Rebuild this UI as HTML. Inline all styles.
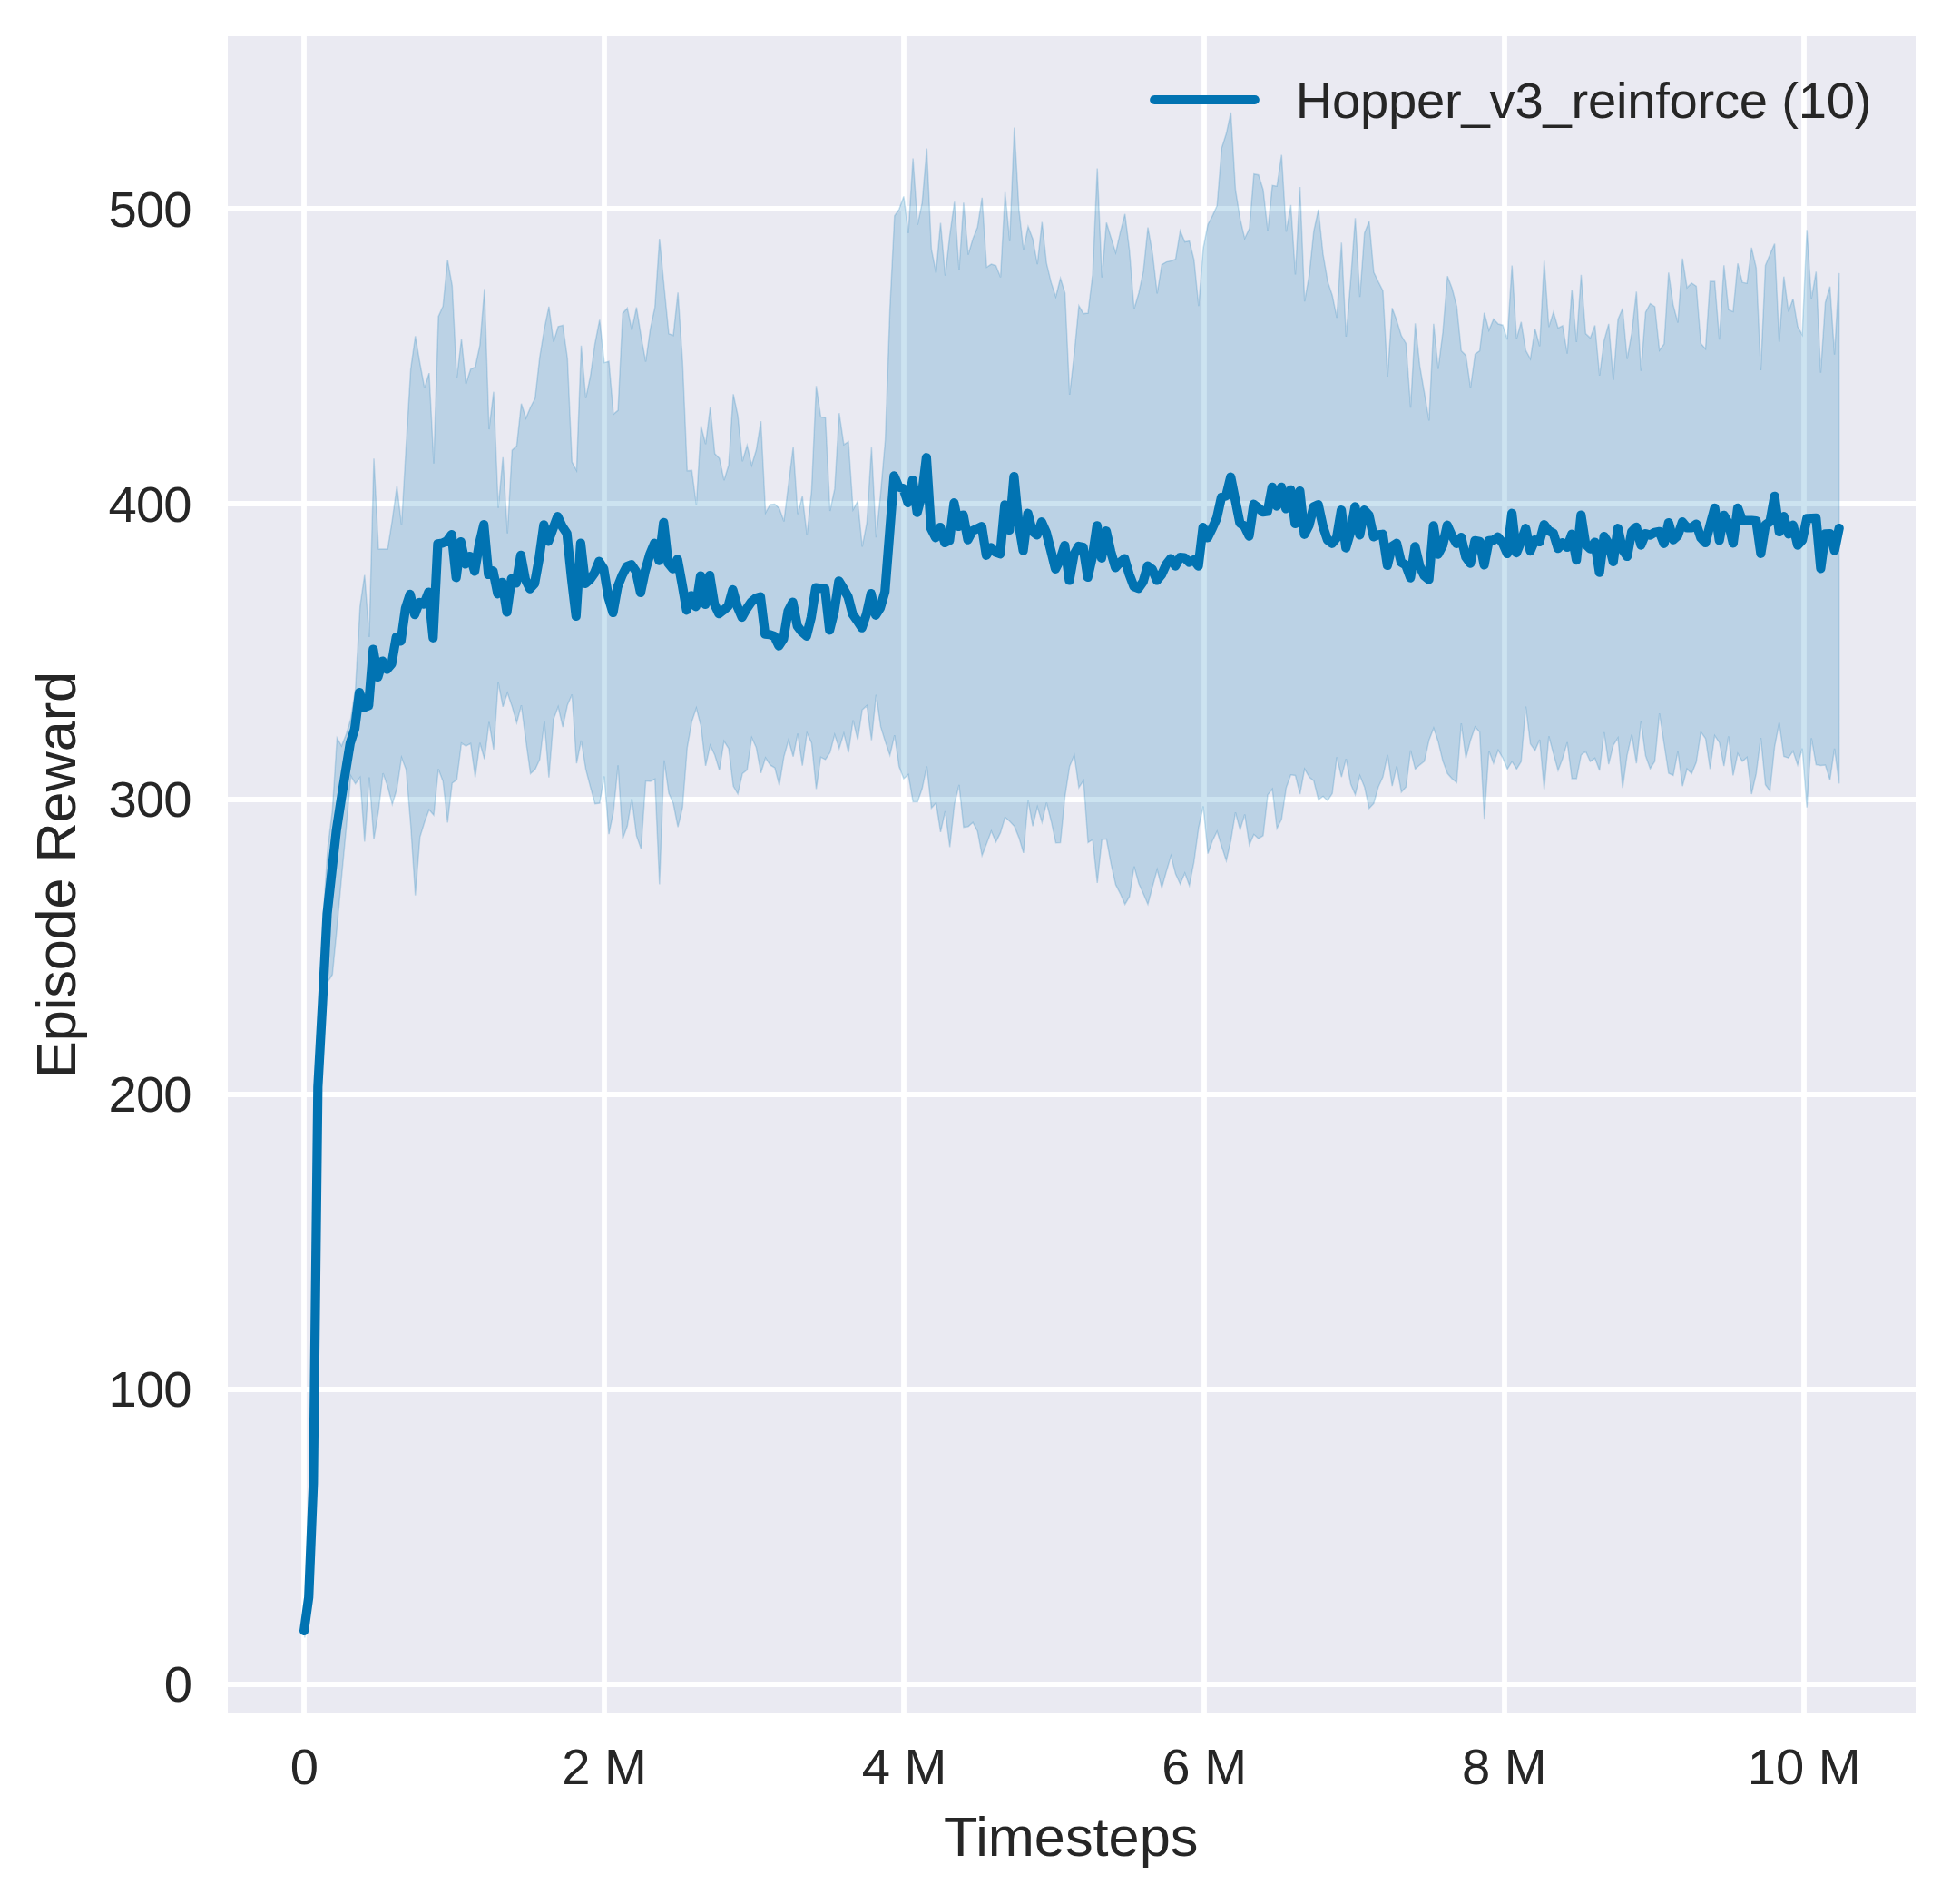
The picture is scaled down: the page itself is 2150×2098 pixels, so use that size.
<!DOCTYPE html>
<html><head><meta charset="utf-8">
<style>
html,body{margin:0;padding:0;background:#fff;}
body{width:2150px;height:2098px;overflow:hidden;font-family:"Liberation Sans",sans-serif;}
svg{display:block;}
text{font-family:"Liberation Sans",sans-serif;fill:#262626;}
</style></head><body>
<svg width="2150" height="2098" viewBox="0 0 2150 2098">
<rect x="0" y="0" width="2150" height="2098" fill="#ffffff"/>
<rect x="251" y="40" width="1860" height="1848" fill="#eaeaf2"/>
<g stroke="#ffffff" stroke-width="5.8" fill="none">
<path d="M335 40V1888M666 40V1888M996 40V1888M1327 40V1888M1658 40V1888M1988 40V1888"/>
<path d="M251 1856H2111M251 1531H2111M251 1206H2111M251 881H2111M251 555H2111M251 230H2111"/>
</g>
<path d="M335.8 1789.5 L340.9 1757 L346 1630 L351.1 1192 L356.1 1012 L361.2 934 L366.3 893 L371.4 813 L376.4 822 L381.5 809 L386.6 792 L391.7 759 L396.8 668 L401.8 633.5 L406.9 702 L412 505.3 L417.1 605 L422.1 605 L427.2 605 L432.3 573 L437.4 535.3 L442.5 579 L447.5 492 L452.6 406.9 L457.7 370.4 L462.8 400.5 L467.8 427.4 L472.9 411.1 L478 510.7 L483.1 348.7 L488.2 337.4 L493.2 286.3 L498.3 314.7 L503.4 416.8 L508.5 373.5 L513.5 422.9 L518.6 406.9 L523.7 404.5 L528.8 380.6 L533.9 318.2 L538.9 473.1 L544 431.7 L549.1 559.8 L554.2 503.8 L559.2 587.6 L564.3 496.2 L569.4 491.3 L574.5 444.8 L579.6 460.8 L584.6 448.7 L589.7 438.8 L594.8 393.4 L599.9 362.2 L604.9 337.8 L610 376.7 L615.1 359.8 L620.2 358.4 L625.3 394.7 L630.3 509.1 L635.4 518.5 L640.5 380.8 L645.6 438.7 L650.6 414.5 L655.7 378.4 L660.8 352.4 L665.9 399.6 L671 398.2 L676 456.4 L681.1 452.1 L686.2 345.3 L691.3 339.4 L696.3 363.5 L701.4 338.7 L706.5 370.6 L711.6 398.5 L716.7 362.1 L721.7 338.7 L726.8 263 L731.9 316 L737 367.7 L742 369.6 L747.1 322.3 L752.2 398 L757.3 518.8 L762.4 518.4 L767.4 556.4 L772.5 469.5 L777.6 489.3 L782.7 448.5 L787.7 499.8 L792.8 505 L797.9 529.2 L803 512.5 L808.1 434.3 L813.1 457.9 L818.2 508.3 L823.3 490.8 L828.4 512.5 L833.4 495.8 L838.5 464 L843.6 565.1 L848.7 555.9 L853.8 555.5 L858.8 560.1 L863.9 574.6 L869 533 L874.1 492.5 L879.1 566.5 L884.2 546.7 L889.3 589.9 L894.4 540.3 L899.5 425.4 L904.5 459.4 L909.6 460.1 L914.7 563 L919.8 538.9 L924.8 455.2 L929.9 489.9 L935 486.7 L940.1 561.6 L945.2 552.3 L950.2 602.4 L955.3 575.7 L960.4 493 L965.5 592.1 L970.5 543 L975.6 485 L980.7 340 L985.8 237.7 L990.8 230.6 L995.9 216.4 L1001 256.8 L1006.1 174.5 L1011.2 247.6 L1016.2 223.5 L1021.3 163.5 L1026.4 274.5 L1031.5 300.5 L1036.5 245.5 L1041.6 303.6 L1046.7 258.9 L1051.8 222.3 L1056.9 297.7 L1061.9 223.2 L1067 280.6 L1072.1 263.2 L1077.2 250.4 L1082.2 217.8 L1087.3 294.4 L1092.4 291.1 L1097.5 292.7 L1102.6 305.5 L1107.6 211.7 L1112.7 265.6 L1117.8 140.5 L1122.9 231 L1127.9 275.2 L1133 249.7 L1138.1 263.2 L1143.2 291.1 L1148.3 244.5 L1153.3 290.1 L1158.4 311.4 L1163.5 327 L1168.6 306.5 L1173.6 322.8 L1178.7 435 L1183.8 390 L1188.9 336.9 L1194 345.6 L1199 345.1 L1204.1 302.5 L1209.2 185.5 L1214.3 305.6 L1219.3 245.3 L1224.4 262.1 L1229.5 278.4 L1234.6 255.7 L1239.7 235.8 L1244.7 276.2 L1249.8 340.5 L1254.9 323 L1260 298.9 L1265 250.7 L1270.1 279.1 L1275.2 323.3 L1280.3 291.6 L1285.4 288.6 L1290.4 287.6 L1295.5 285.5 L1300.6 254.3 L1305.7 266.6 L1310.7 265.6 L1315.8 286.2 L1320.9 337.2 L1326 273.4 L1331.1 247.2 L1336.1 237.9 L1341.2 226.6 L1346.3 163.1 L1351.4 147.1 L1356.4 123.9 L1361.5 209.2 L1366.6 240.8 L1371.7 262.8 L1376.8 251.8 L1381.8 191.7 L1386.9 192.7 L1392 209 L1397.1 254.4 L1402.1 204.3 L1407.2 205.2 L1412.3 170.5 L1417.4 255.3 L1422.5 225.8 L1427.5 302.4 L1432.6 206.1 L1437.7 332.2 L1442.8 302.8 L1447.8 254.6 L1452.9 230.8 L1458 280.1 L1463.1 309.9 L1468.2 325.5 L1473.2 350.1 L1478.3 267.4 L1483.4 371 L1488.5 308 L1493.5 240.4 L1498.6 327.2 L1503.7 256.7 L1508.8 243.7 L1513.9 300 L1518.9 310.4 L1524 320.4 L1529.1 415 L1534.2 339.4 L1539.2 353.3 L1544.3 370 L1549.4 378.4 L1554.5 449.3 L1559.6 356.4 L1564.6 403.2 L1569.7 433 L1574.8 463.5 L1579.9 356.7 L1584.9 406.5 L1590 366.3 L1595.1 304.3 L1600.2 317.8 L1605.3 337.5 L1610.3 386.5 L1615.4 391.6 L1620.5 427.3 L1625.6 390.1 L1630.6 386.6 L1635.7 344.6 L1640.8 363.9 L1645.9 351.6 L1651 357.1 L1656 358.2 L1661.1 374.1 L1666.2 292.6 L1671.3 373.1 L1676.3 354.7 L1681.4 386.2 L1686.5 395.4 L1691.6 362.1 L1696.7 381.5 L1701.7 287.3 L1706.8 360.4 L1711.9 343.9 L1717 361.5 L1722 358.9 L1727.1 389.7 L1732.2 319.1 L1737.3 377 L1742.4 302.8 L1747.4 367.6 L1752.5 372.4 L1757.6 358.5 L1762.7 414 L1767.7 375.3 L1772.8 356.9 L1777.9 418.6 L1783 351.9 L1788.1 339.9 L1793.1 395.5 L1798.2 366.8 L1803.3 321.4 L1808.4 408.7 L1813.4 344.1 L1818.5 334.5 L1823.6 338 L1828.7 386 L1833.8 379.1 L1838.8 300.4 L1843.9 336.3 L1849 355.5 L1854.1 284.8 L1859.1 316.9 L1864.2 311.9 L1869.3 315.3 L1874.4 378.6 L1879.5 384.5 L1884.5 310.1 L1889.6 310.1 L1894.7 374.3 L1899.8 292.3 L1904.8 341.3 L1909.9 343.4 L1915 290.2 L1920.1 311.2 L1925.2 312.2 L1930.2 272.9 L1935.3 295.2 L1940.4 407.9 L1945.5 292.3 L1950.5 280.4 L1955.6 268.5 L1960.7 376.7 L1965.8 304.7 L1970.9 343.4 L1975.9 329.2 L1981 359.7 L1986.1 368.9 L1991.2 253.3 L1996.2 329.2 L2001.3 299.4 L2006.4 410.8 L2011.5 333.5 L2016.6 315.7 L2021.6 390.6 L2026.7 300.9 L2026.7 863.3 L2021.6 824.8 L2016.6 859.4 L2011.5 843 L2006.4 843.5 L2001.3 842.5 L1996.2 813.3 L1991.2 889.6 L1986.1 824.8 L1981 843 L1975.9 827.6 L1970.9 835.2 L1965.8 833.5 L1960.7 796.4 L1955.6 822.9 L1950.5 871.8 L1945.5 864.8 L1940.4 813 L1935.3 852.7 L1930.2 875 L1925.2 834.5 L1920.1 838.9 L1915 830.3 L1909.9 854.4 L1904.8 811.3 L1899.8 844.2 L1894.7 818.2 L1889.6 810.6 L1884.5 847.4 L1879.5 813.7 L1874.4 806.6 L1869.3 839.9 L1864.2 852.4 L1859.1 847.3 L1854.1 866.2 L1849 827.9 L1843.9 854.4 L1838.8 852 L1833.8 819.5 L1828.7 786 L1823.6 838.9 L1818.5 847 L1813.4 832.8 L1808.4 795.2 L1803.3 841.1 L1798.2 809.4 L1793.1 832.1 L1788.1 868.3 L1783 813 L1777.9 821.1 L1772.8 842.1 L1767.7 806.8 L1762.7 849.1 L1757.6 835.5 L1752.5 839.2 L1747.4 827.9 L1742.4 831.8 L1737.3 858.1 L1732.2 858.1 L1727.1 817.9 L1722 835.7 L1717 848.9 L1711.9 830.4 L1706.8 811.3 L1701.7 869.7 L1696.7 815.1 L1691.6 826.9 L1686.5 819.6 L1681.4 778.5 L1676.3 839.2 L1671.3 847.4 L1666.2 839.2 L1661.1 847.4 L1656 835 L1651 826.5 L1645.9 841.1 L1640.8 827.4 L1635.7 902.1 L1630.6 806.6 L1625.6 800.9 L1620.5 815.8 L1615.4 835.4 L1610.3 797.1 L1605.3 862.2 L1600.2 858.1 L1595.1 852.3 L1590 838.5 L1584.9 817.2 L1579.9 802.3 L1574.8 815.5 L1569.7 838.8 L1564.6 842.8 L1559.6 847.4 L1554.5 826.9 L1549.4 867.2 L1544.3 872.8 L1539.2 844.3 L1534.2 866.2 L1529.1 831.8 L1524 856 L1518.9 867.3 L1513.9 885.3 L1508.8 890.7 L1503.7 867.3 L1498.6 854.8 L1493.5 875.7 L1488.5 864 L1483.4 836.1 L1478.3 856.2 L1473.2 834.3 L1468.2 874.3 L1463.1 882.2 L1458 877.5 L1452.9 881.3 L1447.8 860.5 L1442.8 856.2 L1437.7 847.4 L1432.6 875 L1427.5 854.5 L1422.5 853.8 L1417.4 867.9 L1412.3 902.8 L1407.2 913 L1402.1 869.3 L1397.1 875.7 L1392 920.8 L1386.9 924 L1381.8 919.4 L1376.8 931.1 L1371.7 897.4 L1366.6 914.4 L1361.5 895.2 L1356.4 926.5 L1351.4 948.4 L1346.3 932.8 L1341.2 916.1 L1336.1 926.5 L1331.1 940.6 L1326 888.5 L1320.9 912 L1315.8 949.6 L1310.7 976 L1305.7 962.1 L1300.6 974.2 L1295.5 963.1 L1290.4 943 L1285.4 960 L1280.3 978.4 L1275.2 958.2 L1270.1 977 L1265 996.5 L1260 984.8 L1254.9 973.5 L1249.8 954.8 L1244.7 987.9 L1239.7 996.5 L1234.6 984.8 L1229.5 974.9 L1224.4 952.2 L1219.3 924.5 L1214.3 925.2 L1209.2 972.8 L1204.1 925.2 L1199 928.5 L1194 860 L1188.9 867.8 L1183.8 832.1 L1178.7 844.4 L1173.6 877.7 L1168.6 928.5 L1163.5 928.8 L1158.4 904.7 L1153.3 884.5 L1148.3 906.1 L1143.2 889.1 L1138.1 910.4 L1133 881.7 L1127.9 939.9 L1122.9 923.1 L1117.8 910.4 L1112.7 905 L1107.6 900.5 L1102.6 917.4 L1097.5 927.7 L1092.4 915.8 L1087.3 929.4 L1082.2 942.8 L1077.2 915.9 L1072.1 906.2 L1067 910.9 L1061.9 911.6 L1056.9 864.8 L1051.8 886.1 L1046.7 933.3 L1041.6 893.9 L1036.5 916.9 L1031.5 884.7 L1026.4 890.4 L1021.3 844.5 L1016.2 869.1 L1011.2 883.5 L1006.1 883.5 L1001 853.5 L995.9 858 L990.8 844.7 L985.8 810.2 L980.7 832.2 L975.6 817.3 L970.5 800.7 L965.5 765.5 L960.4 815.6 L955.3 777.6 L950.2 782.1 L945.2 815.2 L940.1 793.6 L935 829.1 L929.9 808.1 L924.8 824.7 L919.8 809.5 L914.7 829.1 L909.6 836.9 L904.5 834.3 L899.5 869.4 L894.4 818.7 L889.3 807.6 L884.2 843.6 L879.1 808.4 L874.1 833.7 L869 815.2 L863.9 833.7 L858.8 865.3 L853.8 846 L848.7 842.9 L843.6 835.1 L838.5 851.8 L833.4 823.8 L828.4 812.8 L823.3 848.3 L818.2 852.4 L813.1 874.8 L808.1 866.3 L803 824.8 L797.9 816.7 L792.8 848.9 L787.7 832 L782.7 821.2 L777.6 843.9 L772.5 800.4 L767.4 780.2 L762.4 795.1 L757.3 823.8 L752.2 889.7 L747.1 911.3 L742 885.5 L737 874.1 L731.9 837.9 L726.8 974.5 L721.7 858.5 L716.7 861.1 L711.6 860.6 L706.5 935.5 L701.4 920.9 L696.3 880.1 L691.3 910.3 L686.2 924.2 L681.1 843.3 L676 894.7 L671 919.2 L665.9 855.5 L660.8 885.1 L655.7 885.7 L650.6 867 L645.6 847.9 L640.5 816 L635.4 841.2 L630.3 765.3 L625.3 777 L620.2 801.1 L615.1 778.8 L610 792.6 L604.9 856.7 L599.9 795 L594.8 836.8 L589.7 847.9 L584.6 852.4 L579.6 816.7 L574.5 777.2 L569.4 796.4 L564.3 778.4 L559.2 763.5 L554.2 778.8 L549.1 751.8 L544 825.9 L538.9 795.7 L533.9 836.5 L528.8 818.5 L523.7 856.4 L518.6 819.2 L513.5 822.1 L508.5 818.8 L503.4 859.2 L498.3 863 L493.2 906.5 L488.2 860.9 L483.1 847.4 L478 898.2 L472.9 892.3 L467.8 906 L462.8 922.3 L457.7 986.6 L452.6 909 L447.5 847.9 L442.5 834.8 L437.4 869 L432.3 886.3 L427.2 866.8 L422.1 852.1 L417.1 893.5 L412 925 L406.9 856.5 L401.8 927.4 L396.8 856.5 L391.7 863.6 L386.6 855 L381.5 913 L376.4 967 L371.4 1022 L366.3 1074 L361.2 1082 L356.1 1125 L351.1 1204 L346 1640 L340.9 1763 L335.8 1804.5Z" fill="#0173b2" fill-opacity="0.2" stroke="#0173b2" stroke-opacity="0.2" stroke-width="1.5" stroke-linejoin="miter"/>
<path d="M335.1 1796.9 L340.2 1760 L345.3 1634 L350.3 1198 L355.4 1105 L360.5 1007 L365.6 961 L370.7 915 L375.7 882.6 L380.8 850.2 L385.9 819 L391 803 L396.1 763 L401.1 779.5 L406.2 777.5 L411.3 715.5 L416.4 746 L421.5 728.5 L426.5 737.5 L431.6 731.4 L436.7 702 L441.8 706.3 L446.9 670 L451.9 654.8 L457 677.2 L462.1 663.8 L467.2 665.6 L472.3 652.6 L477.3 702.8 L482.4 599.2 L487.5 598.5 L492.6 596 L497.7 589.1 L502.7 636.4 L507.8 597.1 L512.9 621.4 L518 613 L523.1 629.5 L528.1 599.6 L533.2 578.2 L538.3 633 L543.4 629.2 L548.5 654.3 L553.5 641.8 L558.6 674.4 L563.7 637.8 L568.8 642.5 L573.9 611.8 L578.9 638.5 L584 648.6 L589.1 643 L594.2 615 L599.3 578.4 L604.3 596.4 L609.4 582.5 L614.5 569.2 L619.6 580.1 L624.7 587.8 L629.7 636 L634.8 678.9 L639.9 598.6 L645 643 L650.1 638.5 L655.1 631.5 L660.2 618.7 L665.3 626.7 L670.4 658 L675.5 675 L680.5 647 L685.6 634 L690.7 624.3 L695.8 622.2 L700.9 629.6 L705.9 653 L711 629 L716.1 611 L721.2 598.6 L726.3 617.6 L731.3 575.9 L736.4 620.5 L741.5 626.7 L746.6 616.3 L751.7 643.8 L756.7 672.3 L761.8 656.4 L766.9 668.3 L772 634.6 L777.1 665.9 L782.1 634 L787.2 665.5 L792.3 676.2 L797.4 672.3 L802.5 667.9 L807.5 649.9 L812.6 668.5 L817.7 680.1 L822.8 670.9 L827.9 663.3 L832.9 659.1 L838 657.6 L843.1 698.6 L848.2 699.2 L853.3 701 L858.3 711.7 L863.4 703.9 L868.5 673.3 L873.6 663.5 L878.7 689.8 L883.7 696.3 L888.8 700.8 L893.9 680.4 L899 647.6 L904.1 648.2 L909.1 648.8 L914.2 694.3 L919.3 674 L924.4 640.3 L929.5 648.5 L934.5 657.4 L939.6 676.8 L944.7 683.9 L949.8 691.7 L954.9 676.5 L959.9 654.1 L965 677.8 L970.1 669.7 L975.2 652.1 L980.3 588.2 L985.3 524.4 L990.4 536.5 L995.5 538.3 L1000.6 554 L1005.7 529.1 L1010.7 564.6 L1015.8 546 L1020.9 504.2 L1026 582.5 L1031.1 592.3 L1036.1 581 L1041.2 598 L1046.3 595.5 L1051.4 554.2 L1056.5 580 L1061.5 567.5 L1066.6 594.7 L1071.7 584.9 L1076.8 582.6 L1081.9 580.2 L1086.9 611.8 L1092 603.4 L1097.1 608.5 L1102.2 610.3 L1107.3 556.3 L1112.3 584.1 L1117.4 525.1 L1122.5 577 L1127.6 606.7 L1132.7 565.7 L1137.7 585.5 L1142.8 589.4 L1147.9 575.2 L1153 586.7 L1158.1 606.7 L1163.1 626.8 L1168.2 617 L1173.3 601.1 L1178.4 639.5 L1183.5 611 L1188.5 602 L1193.6 602.9 L1198.7 636 L1203.8 613.5 L1208.9 579.3 L1213.9 614.8 L1219 585.2 L1224.1 607.9 L1229.2 625.4 L1234.3 619.7 L1239.3 615.6 L1244.4 632.7 L1249.5 646.2 L1254.6 648.2 L1259.7 641 L1264.7 623.7 L1269.8 627.4 L1274.9 639.5 L1280 633.3 L1285.1 622.1 L1290.1 615.6 L1295.2 623.6 L1300.3 614.1 L1305.4 614.6 L1310.5 619.5 L1315.5 617 L1320.6 623.6 L1325.7 581 L1330.8 592.4 L1335.9 582 L1340.9 570.8 L1346 547.8 L1351.1 546.4 L1356.2 525.6 L1361.3 550.9 L1366.3 576.1 L1371.4 579.9 L1376.5 590.6 L1381.6 555.7 L1386.7 559.6 L1391.7 564.2 L1396.8 563.5 L1401.9 536.8 L1407 557.6 L1412.1 536.8 L1417.1 560.5 L1422.2 539.8 L1427.3 577 L1432.4 541 L1437.5 588.8 L1442.5 579 L1447.6 558.4 L1452.7 556.1 L1457.8 579.6 L1462.9 595 L1467.9 598.8 L1473 592.6 L1478.1 562.2 L1483.2 603.6 L1488.3 586 L1493.3 558.4 L1498.4 589.4 L1503.5 562.2 L1508.6 567.8 L1513.7 591.4 L1518.7 589.3 L1523.8 588.7 L1528.9 623 L1534 602 L1539.1 598.7 L1544.1 619.7 L1549.2 622.7 L1554.3 636.6 L1559.4 602.3 L1564.5 624 L1569.5 634.4 L1574.6 638.6 L1579.7 579.3 L1584.8 610.6 L1589.9 600.9 L1594.9 578.7 L1600 590.2 L1605.1 598.8 L1610.2 592 L1615.3 613.8 L1620.3 620.7 L1625.4 595.8 L1630.5 596.7 L1635.6 622.4 L1640.7 595.8 L1645.7 595.2 L1650.8 591.7 L1655.9 598.5 L1661 610 L1666.1 565.7 L1671.1 609.1 L1676.2 596.5 L1681.3 582.2 L1686.4 607.1 L1691.5 595 L1696.5 597 L1701.6 578.1 L1706.7 584.9 L1711.8 587.5 L1716.9 604.2 L1721.9 598.1 L1727 603 L1732.1 588.7 L1737.2 617.1 L1742.3 567.5 L1747.3 599.7 L1752.4 604.7 L1757.5 597.5 L1762.6 630.7 L1767.7 591.1 L1772.7 599 L1777.8 618.9 L1782.9 582.2 L1788 605.6 L1793.1 613 L1798.1 586.1 L1803.2 580.8 L1808.3 600.6 L1813.4 588.1 L1818.5 589.7 L1823.5 586.7 L1828.6 585.8 L1833.7 598.8 L1838.8 576.1 L1843.9 594.7 L1848.9 590.2 L1854 575.2 L1859.1 581.4 L1864.2 581.4 L1869.3 577.5 L1874.3 592.6 L1879.4 598 L1884.5 578.5 L1889.6 559.8 L1894.7 595.3 L1899.7 567.8 L1904.8 576.7 L1909.9 598.3 L1915 559.8 L1920.1 573.7 L1925.1 573.5 L1930.2 573.5 L1935.3 574 L1940.4 609.8 L1945.5 578.5 L1950.5 574.9 L1955.6 546.8 L1960.7 585.9 L1965.8 569.2 L1970.9 588.3 L1975.9 578.7 L1981 600.6 L1986.1 595.3 L1991.2 571.4 L1996.3 571.1 L2001.3 570.9 L2006.4 626.3 L2011.5 588.3 L2016.6 588 L2021.7 606.6 L2026.7 582.1" fill="none" stroke="#0173b2" stroke-width="10.2" stroke-linejoin="round" stroke-linecap="round"/>
<g font-size="56.2px" text-anchor="end">
<text x="212.1" y="1874.8">0</text>
<text x="210.6" y="1549.8" letter-spacing="-0.9">100</text>
<text x="210.6" y="1224.8" letter-spacing="-0.9">200</text>
<text x="210.6" y="899.8" letter-spacing="-0.9">300</text>
<text x="210.6" y="574.8" letter-spacing="-0.9">400</text>
<text x="210.6" y="249.8" letter-spacing="-0.9">500</text>
</g>
<g font-size="56.2px" text-anchor="middle">
<text x="335.4" y="1965.6">0</text>
<text x="666" y="1965.6">2 M</text>
<text x="996.6" y="1965.6">4 M</text>
<text x="1327.2" y="1965.6">6 M</text>
<text x="1657.8" y="1965.6">8 M</text>
<text x="1988.2" y="1965.6">10 M</text>
</g>
<text x="1180.2" y="2045.2" font-size="61.3px" text-anchor="middle">Timesteps</text>
<text transform="translate(82.8,964.1) rotate(-90)" font-size="61.3px" text-anchor="middle" letter-spacing="-0.13">Episode Reward</text>
<path d="M1272.2 110H1382.8" stroke="#0173b2" stroke-width="10.2" stroke-linecap="round" fill="none"/>
<text x="1427.7" y="130.2" font-size="56.2px" letter-spacing="-0.24">Hopper_v3_reinforce (10)</text>
</svg>
</body></html>
